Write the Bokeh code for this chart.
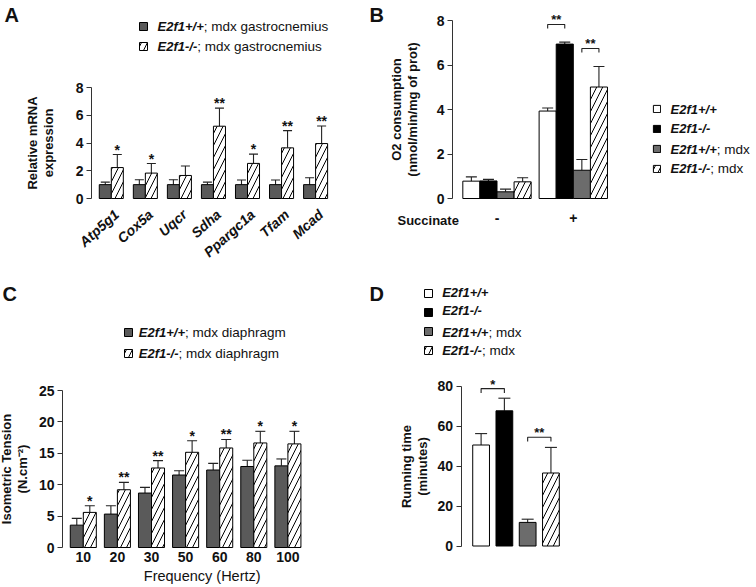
from bokeh.plotting import figure
from bokeh.models import (Range1d, FixedTicker, Label, LabelSet, Legend, LegendItem,
                          Whisker, TeeHead, ColumnDataSource, LinearAxis)
from bokeh.core.properties import value
from bokeh.embed import file_html
from bokeh.resources import INLINE

FONT = "Liberation Sans"
AX = "#333333"
TXT = "#111111"

# ---------------- data ----------------
# Panel A
A_genes = ["Atp5g1", "Cox5a", "Uqcr", "Sdha", "Ppargc1a", "Tfam", "Mcad"]
A_wt_mean = [1.0, 1.0, 1.0, 1.0, 1.0, 1.0, 1.0]
A_wt_sem = [0.18, 0.35, 0.35, 0.18, 0.33, 0.33, 0.50]
A_ko_mean = [2.23, 1.83, 1.66, 5.21, 2.53, 3.65, 3.96]
A_ko_sem = [0.94, 0.69, 0.68, 1.30, 0.67, 1.24, 1.27]
A_stars = ["*", "*", "", "**", "*", "**", "**"]
A_yticks = [0, 2, 4, 6, 8]

# Panel B
B_groups = ["-", "+"]
B_wt = [0.78, 3.93]
B_wt_sem = [0.19, 0.14]
B_ko = [0.79, 6.94]
B_ko_sem = [0.07, 0.09]
B_mdx = [0.30, 1.27]
B_mdx_sem = [0.12, 0.48]
B_komdx = [0.75, 5.01]
B_komdx_sem = [0.18, 0.92]
B_yticks = [0, 2, 4, 6, 8]
B_brackets = [(1, 0, 1, 7.82, "**"), (1, 2, 3, 6.74, "**")]

# Panel C
C_freq = ["10", "20", "30", "50", "60", "80", "100"]
C_mdx = [3.56, 5.32, 8.67, 11.54, 12.34, 12.90, 13.00]
C_mdx_sem = [1.07, 1.33, 0.90, 0.69, 1.06, 1.00, 1.10]
C_komdx = [5.59, 9.20, 12.66, 15.16, 15.85, 16.65, 16.50]
C_komdx_sem = [1.06, 1.17, 1.17, 1.84, 1.35, 1.85, 2.00]
C_stars = ["*", "**", "**", "*", "**", "*", "*"]
C_yticks = [0, 5, 10, 15, 20, 25]

# Panel D
D_groups = ["E2f1+/+", "E2f1-/-", "E2f1+/+; mdx", "E2f1-/-; mdx"]
D_mean = [50.5, 67.6, 11.8, 36.5]
D_sem = [5.7, 6.3, 1.6, 12.8]
D_yticks = [0, 20, 40, 60, 80]
D_brackets = [(0, 1, 78.7, "*"), (2, 3, 54.4, "**")]

# legend texts (italic genotype, plain suffix)
GENO = ["E2f1+/+", "E2f1-/-", "E2f1+/+", "E2f1-/-"]
GENO_SUFFIX = ["", "", "; mdx", "; mdx"]
A_suffix = "; mdx gastrocnemius"
C_suffix = "; mdx diaphragm"
ITW = {"E2f1+/+": 46.3, "E2f1-/-": 39.7}   # widths of italic parts at 13px

GRAY_AC = "#5a5a5a"
GRAY_BD = "#6c6c6c"

W, H = 756, 587

p = figure(width=W, height=H, x_range=Range1d(0, W), y_range=Range1d(H, 0),
           x_axis_type=None, y_axis_type=None, min_border=0,
           output_backend="svg", toolbar_location=None, tools="")
p.title.visible = False
p.grid.visible = False
p.outline_line_color = None
p.background_fill_color = "white"
p.border_fill_color = "white"

# panel pixel layout: (x pixel of group 0, px per group, y pixel of 0, px per unit, axis x pixel)
LAYOUT = {
    "A": (110.8, 34.05, 198.0, 111.0 / 8, 91.0),
    "B": (496.5, 76.3, 198.0, 178.0 / 8, 452.0),
    "C": (82.8, 34.1, 547.0, 157.0 / 25, 62.0),
    "D": (480.6, 23.28, 545.5, 160.0 / 80, 460.5),
}
xr, yr = {}, {}
for k, (x0, xu, y0, yu, ax) in LAYOUT.items():
    xr[k + "x"] = Range1d((0 - x0) / xu, (W - x0) / xu)
    yr[k + "y"] = Range1d((y0 - H) / yu, y0 / yu)
p.extra_x_ranges = xr
p.extra_y_ranges = yr


def rn(k):
    return dict(x_range_name=k + "x", y_range_name=k + "y")


def yaxis(k, ticks, title, title_standoff):
    x0, xu, y0, yu, axp = LAYOUT[k]
    ax = LinearAxis(fixed_location=(axp - x0) / xu, bounds=(ticks[0], ticks[-1]),
                    ticker=FixedTicker(ticks=ticks), **rn(k))
    ax.axis_line_color = AX
    ax.axis_line_width = 1
    ax.major_tick_line_color = AX
    ax.minor_tick_line_color = None
    ax.major_tick_out = 5
    ax.major_tick_in = 0
    ax.major_label_text_font = FONT
    ax.major_label_text_font_size = "14px"
    ax.major_label_text_font_style = "bold"
    ax.major_label_text_color = TXT
    ax.major_label_standoff = 3
    ax.axis_label = title
    ax.axis_label_text_font = FONT
    ax.axis_label_text_font_size = "13px"
    ax.axis_label_text_font_style = "bold"
    ax.axis_label_text_color = TXT
    ax.axis_label_text_line_height = 1.05
    ax.axis_label_standoff = title_standoff
    p.add_layout(ax, "left")


def xaxis(k, labels, standoff, size="14px", style="bold"):
    ticks = list(range(len(labels)))
    ax = LinearAxis(fixed_location=0, bounds=(-0.5, len(labels) - 0.5),
                    ticker=FixedTicker(ticks=ticks), **rn(k))
    ax.major_label_overrides = {i: lab for i, lab in enumerate(labels)}
    ax.axis_line_color = None
    ax.major_tick_line_color = None
    ax.minor_tick_line_color = None
    ax.major_tick_out = 0
    ax.major_tick_in = 0
    ax.major_label_text_font = FONT
    ax.major_label_text_font_size = size
    ax.major_label_text_font_style = style
    ax.major_label_text_color = TXT
    ax.major_label_standoff = standoff
    p.add_layout(ax, "below")


def add_bars(k, xs, tops, width, color, hatch=False):
    kw = dict(x=xs, top=tops, bottom=0, width=width, fill_color=color,
              line_color="black", line_width=1, **rn(k))
    if hatch:
        kw.update(hatch_pattern="/", hatch_scale=12, hatch_color="black", hatch_weight=1)
    return p.vbar(**kw)


def add_err(k, xs, tops, sems, head):
    src = ColumnDataSource(dict(base=xs, lower=tops,
                                upper=[t + s for t, s in zip(tops, sems)]))
    p.add_layout(Whisker(base="base", lower="lower", upper="upper", source=src,
                         dimension="height", line_color="#222222", line_width=1.1,
                         lower_head=None,
                         upper_head=TeeHead(size=head, line_color="#222222", line_width=1.1),
                         **rn(k)))


def add_stars(k, xs, ys, texts, yoff=0, size="14px"):
    src = ColumnDataSource(dict(x=xs, y=ys, t=texts))
    p.add_layout(LabelSet(x="x", y="y", text="t", source=src, text_align="center",
                          text_baseline="alphabetic", text_font=value(FONT),
                          text_font_size=size, text_font_style="bold",
                          text_color=TXT, y_offset=yoff, **rn(k)))


def add_brackets(k, pairs, drop, yoff, size):
    bxs, bys, sx, sy, st = [], [], [], [], []
    for x1, x2, lvl, txt in pairs:
        bxs.append([x1, x1, x2, x2])
        bys.append([lvl - drop, lvl, lvl, lvl - drop])
        sx.append((x1 + x2) / 2)
        sy.append(lvl)
        st.append(txt)
    p.multi_line(xs=bxs, ys=bys, line_color="#222222", line_width=1.1, **rn(k))
    add_stars(k, sx, sy, st, yoff, size)


def page_label(x, y, text, size="13px", style="bold", align="left", baseline="middle"):
    p.add_layout(Label(x=x, y=y, text=text, text_font=FONT, text_font_size=size,
                       text_font_style=style, text_align=align, text_baseline=baseline,
                       text_color=TXT))


def add_legend(renderers, x_left, y_bottom, spacing, glyph=10):
    items = [LegendItem(label=value(" "), renderers=[r]) for r in renderers]
    p.add_layout(Legend(items=items, location=(x_left, H - y_bottom), orientation="vertical",
                        glyph_width=glyph, glyph_height=glyph, label_width=0,
                        label_height=glyph, label_standoff=0, spacing=spacing,
                        padding=0, margin=0, border_line_color=None,
                        background_fill_alpha=0, label_text_font_size="1px"))


def legend_texts(x, ys, italics, suffixes):
    for yy, it, sf in zip(ys, italics, suffixes):
        page_label(x, yy, it, style="bold italic")
        if sf:
            page_label(x + ITW[it], yy, sf, size="13.5px", style="normal")


# ---------------- Panel A ----------------
bwA = 0.353
xa = list(range(len(A_genes)))
xa_wt = [i - bwA / 2 for i in xa]
xa_ko = [i + bwA / 2 for i in xa]
rA1 = add_bars("A", xa_wt, A_wt_mean, bwA, GRAY_AC)
rA2 = add_bars("A", xa_ko, A_ko_mean, bwA, "white", hatch=True)
add_err("A", xa_wt, A_wt_mean, A_wt_sem, 9)
add_err("A", xa_ko, A_ko_mean, A_ko_sem, 9)
add_stars("A", xa_ko, [m + s for m, s in zip(A_ko_mean, A_ko_sem)], A_stars)
yaxis("A", A_yticks, "Relative mRNA\nexpression", 17)
# rotated category labels (end of each text just below its bar pair), text glyphs
_, xuA, _, yuA, _ = LAYOUT["A"]
p.text(x=[i + 5.3 / xuA for i in xa], y=[-13.7 / yuA] * len(xa), text=A_genes,
       angle=42, angle_units="deg", text_align="right", text_baseline="middle",
       text_font=value(FONT), text_font_size="14px", text_font_style="bold italic",
       text_color=TXT, **rn("A"))
page_label(4, 14, "A", size="20px")
add_legend([rA1, rA2], 138, 51, 10)
legend_texts(157, [26, 46], GENO[:2], [A_suffix, A_suffix])

# ---------------- Panel B ----------------
offB = [-0.336, -0.112, 0.112, 0.336]
bwB = 0.224
xb = list(range(len(B_groups)))
seriesB = [(B_wt, B_wt_sem, "white", False), (B_ko, B_ko_sem, "black", False),
           (B_mdx, B_mdx_sem, GRAY_BD, False), (B_komdx, B_komdx_sem, "white", True)]
rB = []
for j, (m, s, c, h) in enumerate(seriesB):
    xs = [i + offB[j] for i in xb]
    rB.append(add_bars("B", xs, m, bwB, c, h))
    add_err("B", xs, m, s, 11)
add_brackets("B", [(g + offB[a], g + offB[b], lvl, t) for g, a, b, lvl, t in B_brackets],
             0.18, 1, "13px")
yaxis("B", B_yticks, "O2 consumption\n(nmol/min/mg of prot)", 14)
xaxis("B", B_groups, 14)
page_label(369, 14.5, "B", size="20px")
page_label(397, 220, "Succinate")
add_legend(rB, 652, 172.8, 11, glyph=9)
legend_texts(670, [108.8, 128.3, 148.5, 168.3], GENO, GENO_SUFFIX)

# ---------------- Panel C ----------------
bwC = 0.382
xc = list(range(len(C_freq)))
xc_m = [i - bwC / 2 for i in xc]
xc_k = [i + bwC / 2 for i in xc]
rC1 = add_bars("C", xc_m, C_mdx, bwC, GRAY_AC)
rC2 = add_bars("C", xc_k, C_komdx, bwC, "white", hatch=True)
add_err("C", xc_m, C_mdx, C_mdx_sem, 10)
add_err("C", xc_k, C_komdx, C_komdx_sem, 10)
add_stars("C", xc_k, [m + s for m, s in zip(C_komdx, C_komdx_sem)], C_stars)
yaxis("C", C_yticks, "Isometric Tension\n(N.cm\u207b\u00b2)", 6)
xaxis("C", C_freq, 4)
page_label(2, 293, "C", size="20px")
page_label(201.7, 575, "Frequency (Hertz)", size="14.5px", style="normal", align="center")
add_legend([rC1, rC2], 123, 358.3, 11)
legend_texts(138.3, [332.3, 353.3], GENO[:2], [C_suffix, C_suffix])

# ---------------- Panel D ----------------
bwD = 0.72
colsD = ["white", "black", GRAY_BD, "white"]
hatD = [False, False, False, True]
rD = []
for j in range(len(D_groups)):
    rD.append(add_bars("D", [j], [D_mean[j]], bwD, colsD[j], hatD[j]))
add_err("D", list(range(len(D_groups))), D_mean, D_sem, 12)
add_brackets("D", D_brackets, 2.2, 0, "13px")
yaxis("D", D_yticks, "Running time\n(minutes)", 5)
page_label(369, 293.5, "D", size="20px")
add_legend(rD, 423, 354.7, 9)
legend_texts(441.7, [291.7, 310.3, 331.7, 349.7], GENO, GENO_SUFFIX)

open("out.html", "w").write(file_html(p, INLINE))
